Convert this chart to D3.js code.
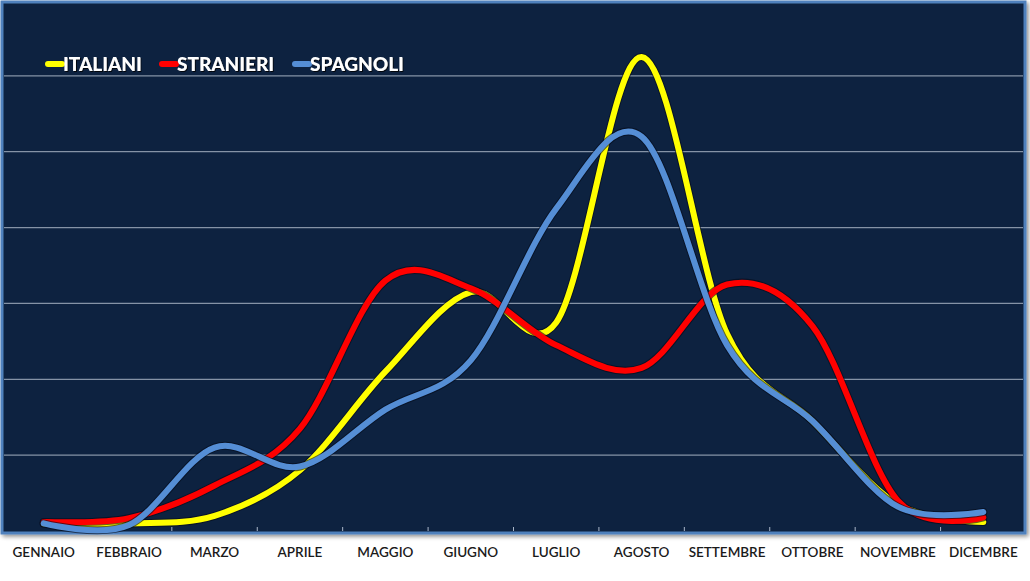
<!DOCTYPE html>
<html><head><meta charset="utf-8">
<script src="https://cdn.jsdelivr.net/npm/d3@7"></script>
<style>
html,body{margin:0;padding:0;background:#fff;}
svg{display:block;}
</style></head>
<body>
<svg id="chart" width="1030" height="581"></svg>
<script>
const months = ["GENNAIO","FEBBRAIO","MARZO","APRILE","MAGGIO","GIUGNO","LUGLIO","AGOSTO","SETTEMBRE","OTTOBRE","NOVEMBRE","DICEMBRE"];
const italiani  = [0.10, 0.10, 0.20, 0.80, 2.10, 3.15, 2.75, 6.25, 2.60, 1.45, 0.35, 0.12];
const stranieri = [0.12, 0.17, 0.60, 1.35, 3.30, 3.20, 2.45, 2.15, 3.25, 2.70, 0.40, 0.18];
const spagnoli  = [0.10, 0.08, 1.10, 0.85, 1.60, 2.25, 4.25, 5.20, 2.45, 1.45, 0.32, 0.25];
const seriesNames = ["ITALIANI","STRANIERI","SPAGNOLI"];
const seriesColors = ["#ffff00","#ff0000","#558ed5"];
const yTicks = [0,1,2,3,4,5,6,7];

const series = [italiani, stranieri, spagnoli];
const svg = d3.select("#chart");
const plot = {left:1, right:1026, top:0, bottom:531};

const defs = svg.append("defs");
const f = defs.append("filter").attr("id","shadow").attr("x","-5%").attr("y","-5%").attr("width","110%").attr("height","110%");
f.append("feDropShadow").attr("dx",2).attr("dy",2).attr("stdDeviation",2).attr("flood-color","#000").attr("flood-opacity",0.45);
const tf = defs.append("filter").attr("id","tshadow");
tf.append("feDropShadow").attr("dx",1).attr("dy",1).attr("stdDeviation",0.6).attr("flood-color","#000").attr("flood-opacity",0.8);

// plot background + border
svg.append("rect").attr("x",plot.left+1).attr("y",plot.top+2).attr("width",plot.right-plot.left-2).attr("height",plot.bottom-plot.top)
  .attr("fill","#10233f").attr("stroke","#4f81bd").attr("stroke-width",3).attr("filter","url(#shadow)");

const x = d3.scaleBand().domain(months).range([plot.left, plot.right]);
const y = d3.scaleLinear().domain([0,7]).range([plot.bottom, plot.top]);

// gridlines
svg.append("g").selectAll("line").data(yTicks.filter(d=>d>0 && d<7)).join("line")
  .attr("x1",plot.left+3).attr("x2",plot.right-3)
  .attr("y1",d=>y(d)).attr("y2",d=>y(d))
  .attr("stroke","#8593a6").attr("stroke-width",1.3);

// x axis ticks
const xAxis = d3.axisBottom(x).tickSize(0).tickPadding(13);
const ax = svg.append("g").attr("transform",`translate(0,${plot.bottom+3})`).call(xAxis);
ax.select(".domain").remove();
ax.selectAll("text").attr("font-family","Lato, 'Open Sans', sans-serif").attr("font-size",13.5).attr("font-weight",600).attr("fill","#1a1a1a");
svg.append("g").selectAll("line").data(months.slice(1)).join("line")
  .attr("x1",d=>x(d)).attr("x2",d=>x(d)).attr("y1",plot.bottom).attr("y2",plot.bottom-4)
  .attr("stroke","#a9b6c8").attr("stroke-width",1);

// lines
const line = d3.line().x((d,i)=>x(months[i])+x.bandwidth()/2).y(d=>y(d)).curve(d3.curveCardinal.tension(0));
const lg = svg.append("g");
series.forEach((s,k)=>{
  lg.append("path").attr("d",line(s)).attr("fill","none").attr("stroke","#050a18").attr("stroke-width",8)
    .attr("stroke-linecap","round").attr("stroke-linejoin","round").attr("opacity",0.6);
  lg.append("path").attr("d",line(s)).attr("fill","none").attr("stroke",seriesColors[k]).attr("stroke-width",6)
    .attr("stroke-linecap","round").attr("stroke-linejoin","round");
});

// legend
const legX = [48, 162, 295];
const leg = svg.append("g");
seriesNames.forEach((n,k)=>{
  leg.append("line").attr("x1",legX[k]).attr("x2",legX[k]+14).attr("y1",64).attr("y2",64)
    .attr("stroke",seriesColors[k]).attr("stroke-width",6).attr("stroke-linecap","round");
  leg.append("text").attr("x",legX[k]+15).attr("y",70.5).text(n)
    .attr("font-family","Lato, 'Open Sans', sans-serif").attr("font-weight",900).attr("font-size",19)
    .attr("fill","#fff").attr("filter","url(#tshadow)");
});
</script>
</body></html>
